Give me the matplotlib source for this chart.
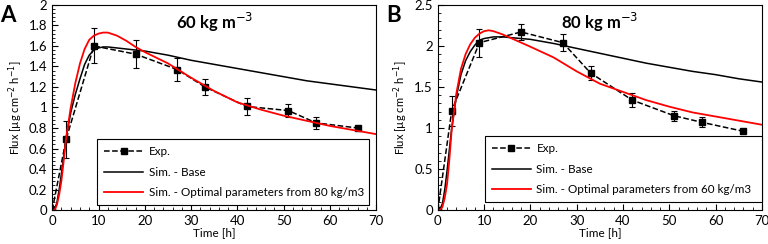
import numpy as np
import matplotlib.pyplot as plt
from matplotlib.ticker import MultipleLocator, FormatStrFormatter

plt.rcParams['font.family'] = ['Lato', 'DejaVu Sans']

# Experimental data (time in h, flux in ug cm-2 h-1)
t_exp = [0, 3, 9, 18, 27, 33, 42, 51, 57, 66]
exp_60 = [0, 0.69, 1.60, 1.52, 1.37, 1.20, 1.01, 0.97, 0.85, 0.80]
err_60 = [0, 0.18, 0.17, 0.14, 0.11, 0.08, 0.08, 0.06, 0.06, 0.01]
exp_80 = [0, 1.21, 2.04, 2.17, 2.04, 1.67, 1.34, 1.15, 1.07, 0.96]
err_80 = [0, 0.18, 0.17, 0.10, 0.10, 0.08, 0.09, 0.06, 0.06, 0.01]

# Simulated curves
t_sim = [0, 0.5, 1, 1.5, 2, 2.5, 3, 4, 5, 6, 7, 8, 9, 10, 11, 12, 14, 16, 18, 20,
         25, 30, 35, 40, 45, 50, 55, 60, 65, 70]
base_60 = [0, 0.01, 0.07, 0.20, 0.36, 0.53, 0.70, 0.95, 1.13, 1.28, 1.42, 1.51, 1.56, 1.58, 1.59, 1.59,
           1.58, 1.57, 1.56, 1.55, 1.51, 1.46, 1.42, 1.38, 1.34, 1.30, 1.26, 1.23, 1.20, 1.17]
opt_60 = [0, 0.0, 0.05, 0.15, 0.29, 0.49, 0.70, 1.00, 1.24, 1.43, 1.57, 1.66, 1.70, 1.72, 1.73, 1.73,
          1.70, 1.65, 1.59, 1.54, 1.43, 1.29, 1.16, 1.05, 0.98, 0.92, 0.87, 0.82, 0.78, 0.74]
base_80 = [0, 0.01, 0.08, 0.25, 0.48, 0.74, 1.00, 1.38, 1.65, 1.82, 1.93, 2.01, 2.07, 2.09, 2.10, 2.11,
           2.11, 2.10, 2.09, 2.08, 2.03, 1.97, 1.91, 1.85, 1.79, 1.74, 1.69, 1.65, 1.60, 1.56]
opt_80 = [0, 0.0, 0.04, 0.15, 0.32, 0.62, 0.98, 1.42, 1.72, 1.90, 2.02, 2.10, 2.15, 2.18, 2.19, 2.18,
          2.14, 2.09, 2.04, 1.99, 1.86, 1.69, 1.54, 1.44, 1.34, 1.26, 1.19, 1.14, 1.09, 1.04]

fig, axes = plt.subplots(1, 2, figsize=(7.68, 2.44), dpi=100)
fig.subplots_adjust(left=0.068, right=0.992, bottom=0.139, top=0.98, wspace=0.19)

panels = [
    (axes[0], 'A', '60 kg m$^{-3}$', exp_60, err_60, base_60, opt_60,
     'Sim. - Optimal parameters from 80 kg/m3', 2, 0.2, 0.04, (0.139, 0.024, 0.839, 0.3)),
    (axes[1], 'B', '80 kg m$^{-3}$', exp_80, err_80, base_80, opt_80,
     'Sim. - Optimal parameters from 60 kg/m3', 2.5, 0.5, 0.1, (0.146, 0.039, 0.854, 0.3)),
]

for ax, letter, title, y_exp, y_err, y_base, y_opt, opt_label, ymax, ystep, yminor, box in panels:
    ax.errorbar(t_exp, y_exp, yerr=y_err, fmt='none', ecolor='black',
                capsize=2.5, elinewidth=0.8, capthick=0.8)
    ax.plot(t_exp, y_exp, color='black', ls='--', lw=1.1, marker='s', ms=4.5, label='Exp.')
    ax.plot(t_sim, y_base, color='black', lw=1.1, label='Sim. - Base')
    ax.plot(t_sim, y_opt, color='red', lw=1.3, label=opt_label)
    ax.set_xlim(0, 70)
    ax.set_ylim(0, ymax)
    ax.xaxis.set_major_locator(MultipleLocator(10))
    ax.xaxis.set_minor_locator(MultipleLocator(2))
    ax.yaxis.set_major_locator(MultipleLocator(ystep))
    ax.yaxis.set_minor_locator(MultipleLocator(yminor))
    ax.yaxis.set_major_formatter(FormatStrFormatter('%g'))
    ax.tick_params(which='both', direction='in', labelsize=9.5)
    ax.tick_params(which='major', length=4)
    ax.tick_params(which='minor', length=2.5)
    ax.set_xlabel('Time [h]', fontsize=8.5, labelpad=0)
    ax.set_ylabel('Flux [µg cm$^{-2}$ h$^{-1}$]', fontsize=8, labelpad=3)
    ax.set_title(title, fontsize=12, fontweight='bold', y=0.84)
    ax.text(-0.16, 1.0, letter, transform=ax.transAxes, fontsize=16,
            fontweight='bold', va='top', ha='left')
    leg = ax.legend(loc='lower left', bbox_to_anchor=box, mode='expand',
                    fontsize=8.4, frameon=True, fancybox=False, framealpha=1,
                    edgecolor='black', borderaxespad=0, handlelength=3.3,
                    handletextpad=0.5, labelspacing=0.8, borderpad=0.6)
    leg.get_frame().set_linewidth(0.8)

plt.savefig('out.png')
